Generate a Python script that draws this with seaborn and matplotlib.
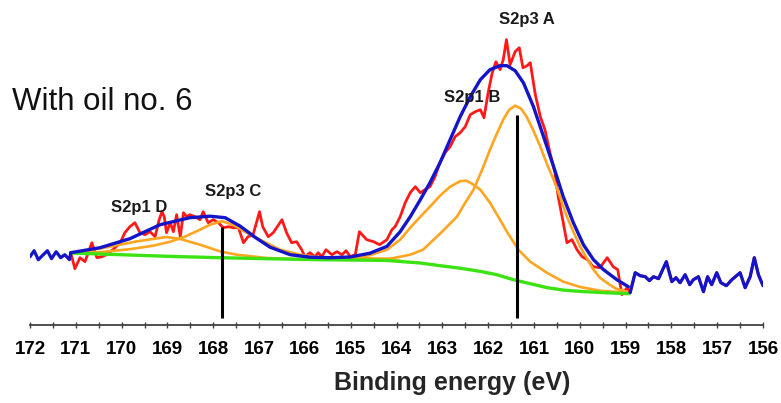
import matplotlib
matplotlib.use("Agg")
import numpy as np
import pandas as pd
import matplotlib.pyplot as plt
import seaborn as sns
from matplotlib.ticker import MultipleLocator

# ---------------- DATA ----------------
# measured S2p spectrum: binding energy (eV) / intensity (a.u.)
energy = [172.00, 171.91, 171.82, 171.71, 171.62, 171.53, 171.43, 171.33, 171.24, 171.14,
          171.11, 171.02, 170.91, 170.80, 170.65, 170.54, 170.43, 170.33, 170.19, 170.03,
          169.93, 169.82, 169.71, 169.60, 169.49, 169.38, 169.27, 169.18, 169.12, 169.07,
          169.02, 168.94, 168.87, 168.80, 168.72, 168.65, 168.58, 168.51, 168.40, 168.29,
          168.22, 168.11, 168.00, 167.89, 167.78, 167.67, 167.56, 167.45, 167.34, 167.24,
          167.13, 166.99, 166.92, 166.80, 166.69, 166.50, 166.40, 166.29, 166.18, 166.07,
          166.00, 165.89, 165.78, 165.71, 165.63, 165.54, 165.41, 165.30, 165.19, 165.10,
          165.01, 164.90, 164.81, 164.65, 164.50, 164.37, 164.21, 164.10, 164.03, 163.92,
          163.81, 163.70, 163.59, 163.48, 163.38, 163.27, 163.16, 163.05, 162.94, 162.83,
          162.72, 162.61, 162.50, 162.39, 162.28, 162.17, 162.09, 162.00, 161.91, 161.83,
          161.74, 161.67, 161.60, 161.52, 161.41, 161.32, 161.24, 161.15, 161.08, 160.97,
          160.86, 160.76, 160.65, 160.54, 160.47, 160.36, 160.28, 160.17, 160.06, 159.95,
          159.83, 159.71, 159.56, 159.40, 159.27, 159.17, 159.08, 158.97, 158.90, 158.79,
          158.68, 158.57, 158.48, 158.39, 158.28, 158.11, 157.99, 157.90, 157.81, 157.70,
          157.60, 157.52, 157.41, 157.30, 157.21, 157.12, 157.01, 156.92, 156.80, 156.68,
          156.50, 156.39, 156.28, 156.19, 156.10, 156.00]
counts = [68, 74, 65, 70, 74, 66, 73, 67, 70, 65,
          72, 56, 67, 63, 82, 67, 68, 70, 75, 82,
          92, 98, 102, 92, 90, 93, 88, 105, 113, 108,
          92, 102, 93, 110, 88, 112, 108, 110, 108, 105,
          113, 102, 105, 102, 97, 98, 97, 97, 82, 88,
          90, 113, 98, 88, 92, 105, 92, 82, 83, 75,
          68, 72, 68, 72, 68, 75, 70, 73, 70, 74,
          68, 70, 93, 85, 83, 80, 85, 95, 98, 108,
          122, 132, 138, 132, 135, 138, 148, 162, 172, 178,
          188, 192, 198, 210, 213, 215, 207, 232, 252, 263,
          255, 265, 285, 260, 273, 277, 257, 259, 262, 230,
          208, 195, 172, 152, 128, 102, 82, 85, 75, 68,
          65, 58, 57, 67, 58, 55, 30, 37, 32, 52,
          49, 48, 44, 48, 46, 63, 43, 47, 42, 50,
          40, 45, 48, 33, 48, 40, 52, 42, 39, 45,
          52, 37, 48, 67, 50, 39]
fit_start, fit_end = 171.11, 158.94

# fitted envelope
env_e = [171.11, 170.47, 169.82, 169.16, 168.51, 168.07, 167.74, 167.41, 167.09, 166.76,
         166.32, 165.89, 165.45, 165.01, 164.58, 164.21, 163.92, 163.70, 163.48, 163.27,
         163.05, 162.83, 162.61, 162.39, 162.17, 161.96, 161.74, 161.59, 161.41, 161.23,
         161.01, 160.79, 160.57, 160.36, 160.14, 159.92, 159.70, 159.48, 159.19, 158.94]
env_i = [72, 77, 86, 100, 107, 108.5, 107, 98.5, 87.5, 77.5,
         70, 67.5, 67, 67.7, 71.5, 78.3, 93, 108, 125, 142,
         162, 185, 208, 228, 245, 255, 259, 259, 254, 242,
         218, 188, 158, 128, 102, 80, 65, 55, 45, 38]

# Shirley background
bg_e = [171.11, 170.03, 168.94, 167.85, 166.86, 165.69, 164.23, 163.48, 163.05, 162.61,
        162.17, 161.81, 161.45, 161.08, 160.71, 160.34, 159.99, 159.45, 158.94]
bg_i = [71.7, 70, 68.3, 67, 66, 65, 64.3, 61.7, 59, 56.5,
        53.3, 50, 45, 41, 37, 34.5, 33.3, 32, 31]

# components (background included)
a_e = [165.45, 164.79, 164.14, 163.70, 163.42, 163.05, 162.68, 162.50, 162.32, 162.13,
       161.96, 161.80, 161.67, 161.54, 161.41, 161.28, 161.16, 161.02, 160.86, 160.71,
       160.57, 160.43, 160.28, 160.14, 159.99, 159.84, 159.70, 159.56, 159.41, 159.21, 158.97]
a_i = [66.5, 66.5, 66, 70, 75, 91, 108, 122, 135, 155,
       175, 192, 205, 215, 219, 216, 208, 195, 178, 160,
       145, 128, 108, 93, 78, 66, 55, 47, 42, 36, 33]
b_e = [165.45, 165.01, 164.58, 164.21, 163.92, 163.70, 163.48, 163.27, 163.05, 162.83,
       162.61, 162.48, 162.35, 162.17, 161.96, 161.74, 161.59, 161.34, 161.08, 160.71,
       160.36, 159.99, 159.56, 158.97]
b_i = [66.5, 67, 69.5, 75, 85, 97, 108, 118, 129, 138,
       143.5, 144, 141, 135, 122, 105, 93, 75, 63, 51.7,
       43, 37.7, 34, 32]
c_e = [171.11, 170.47, 169.82, 169.31, 168.94, 168.62, 168.29, 168.07, 167.81, 167.57,
       167.31, 166.98, 166.54, 166.10, 165.67, 165.12, 163.92]
c_i = [71.5, 72.5, 75.5, 79, 83, 88, 95, 100, 103.5, 100,
       93, 85, 75, 70, 67.3, 65.5, 64]
d_e = [171.11, 170.41, 169.67, 169.02, 168.72, 168.29, 167.85, 167.49, 166.83, 166.10, 165.12]
d_i = [71.6, 76.7, 83.3, 87.7, 85.7, 80, 73.3, 70, 66.7, 65.5, 65]

# peak markers and labels
marker_e = [167.81, 161.37]
marker_top = [98, 210]
label_text = ["S2p3 A", "S2p1 B", "S2p3 C", "S2p1 D"]
label_e = [161.15, 162.35, 167.57, 169.62]
label_i = [305.5, 227, 133, 117.5]

# ---------------- STYLE ----------------
sns.set_theme(style="white")
plt.rcParams["font.family"] = ["Liberation Sans", "DejaVu Sans"]

RED, BLUE, ORANGE, GREEN = "#ff1a1a", "#1414c8", "#ffa520", "#3ce314"

fig = plt.figure(figsize=(7.81, 4.03), dpi=100)
ax = fig.add_axes([30 / 781, 0.1943, 733 / 781, 0.8057])

spec = pd.DataFrame({"energy": energy, "counts": counts})
in_fit = spec[spec["energy"] <= fit_start]
left = spec[spec["energy"] >= fit_start]
right = spec[spec["energy"] <= 158.90]

kw = dict(ax=ax, estimator=None, sort=False, legend=False)
sns.lineplot(data=in_fit, x="energy", y="counts", color=RED, linewidth=2.0, **kw)
for e_, i_ in [(d_e, d_i), (c_e, c_i), (b_e, b_i), (a_e, a_i)]:
    sns.lineplot(x=e_, y=i_, color=ORANGE, linewidth=1.9, **kw)
sns.lineplot(x=bg_e, y=bg_i, color=GREEN, linewidth=2.4, **kw)
sns.lineplot(x=env_e, y=env_i, color=BLUE, linewidth=2.4, **kw)
sns.lineplot(data=left, x="energy", y="counts", color=BLUE, linewidth=2.3, **kw)
sns.lineplot(data=right, x="energy", y="counts", color=BLUE, linewidth=2.3, **kw)

ax.vlines(marker_e, 7, marker_top, color="black", linewidth=2.2)

for t, xe, yi in zip(label_text, label_e, label_i):
    ax.text(xe, yi, t, ha="center", va="center", fontsize=12, fontweight="bold",
            color="#1a1a1a")

# ---------------- AXES ----------------
ax.set_xlim(172, 156)
ax.set_ylim(0, 324.7)
ax.xaxis.set_major_locator(MultipleLocator(1))
ax.xaxis.set_minor_locator(MultipleLocator(0.5))
ax.set_yticks([])
ax.set_xlabel("")
ax.set_ylabel("")
for s in ["top", "right", "left"]:
    ax.spines[s].set_visible(False)
ax.spines["bottom"].set_color("#404040")
ax.spines["bottom"].set_linewidth(1.3)
ax.tick_params(axis="x", which="both", direction="inout", length=4, width=1,
               color="#404040", bottom=True, pad=10)
for lab in ax.get_xticklabels():
    lab.set_fontsize(13.5)
    lab.set_fontweight("bold")
    lab.set_color("black")
ax.patch.set_alpha(0)

fig.text(452 / 781, 1 - 383 / 403, "Binding energy (eV)", ha="center", va="center",
         fontsize=18, fontweight="bold")
fig.text(12 / 781, 1 - 110 / 403, "With oil no. 6", ha="left", va="baseline",
         fontsize=22.5, color="#111111")

fig.savefig("out.png", dpi=100)
plt.close(fig)
